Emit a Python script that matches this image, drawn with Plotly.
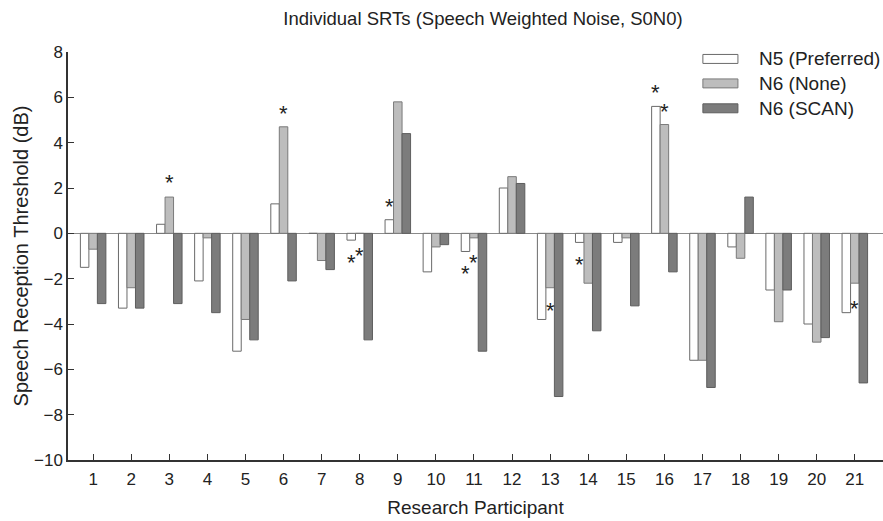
import plotly.graph_objects as go

participants = list(range(1, 22))
series_names = ["N5 (Preferred)", "N6 (None)", "N6 (SCAN)"]
n5_preferred = [-1.5, -3.3, 0.4, -2.1, -5.2, 1.3, 0.0, -0.3, 0.6, -1.7, -0.8,
                2.0, -3.8, -0.4, -0.4, 5.6, -5.6, -0.6, -2.5, -4.0, -3.5]
n6_none = [-0.7, -2.4, 1.6, -0.2, -3.8, 4.7, -1.2, 0.0, 5.8, -0.6, -0.2,
           2.5, -2.4, -2.2, -0.2, 4.8, -5.6, -1.1, -3.9, -4.8, -2.2]
n6_scan = [-3.1, -3.3, -3.1, -3.5, -4.7, -2.1, -1.6, -4.7, 4.4, -0.5, -5.2,
           2.2, -7.2, -4.3, -3.2, -1.7, -6.8, 1.6, -2.5, -4.6, -6.6]

# significance markers: participant, series index (0,1,2), y value
star_participants = [3, 6, 8, 8, 9, 11, 11, 13, 14, 16, 16, 21]
star_series = [1, 1, 0, 1, 0, 0, 1, 1, 0, 0, 1, 1]
star_values = [2.35, 5.36, -1.18, -0.88, 1.29, -1.67, -1.18, -3.32, -1.3, 6.28, 5.47, -3.22]

y_ticks = [-10, -8, -6, -4, -2, 0, 2, 4, 6, 8]

fills = ["#ffffff", "#bdbdbd", "#7c7c7c"]
edges = ["#6a6a6a", "#7a7a7a", "#5e5e5e"]
FONT = "Liberation Sans, Arial, sans-serif"
TXT = "#222222"

bargap = 0.33
bar_w = (1 - bargap) / 3

fig = go.Figure()
for name, vals, fc, ec in zip(series_names, [n5_preferred, n6_none, n6_scan], fills, edges):
    fig.add_trace(go.Bar(x=participants, y=vals, name=name,
                         marker=dict(color=fc, line=dict(color=ec, width=1)),
                         showlegend=False))

for p, s, v in zip(star_participants, star_series, star_values):
    fig.add_annotation(x=p + (s - 1) * bar_w, y=v, text="*", showarrow=False,
                       font=dict(family=FONT, size=22, color=TXT),
                       xanchor="center", yanchor="middle", yshift=-2)

# custom legend
leg_y = [0.983, 0.923, 0.862]
for name, fc, ec, ly in zip(series_names, fills, edges, leg_y):
    fig.add_shape(type="rect", xref="paper", yref="paper",
                  x0=0.779, x1=0.822, y0=ly - 0.011, y1=ly + 0.011,
                  fillcolor=fc, line=dict(color=ec, width=1))
    fig.add_annotation(xref="paper", yref="paper", x=0.845, y=ly, text=name,
                       showarrow=False, xanchor="left", yanchor="middle",
                       font=dict(family=FONT, size=19, color=TXT))

fig.update_layout(
    width=883, height=521,
    margin=dict(l=68, r=0, t=52, b=61),
    paper_bgcolor="white", plot_bgcolor="white",
    barmode="group", bargap=bargap, bargroupgap=0,
    title=dict(text="Individual SRTs (Speech Weighted Noise, S0N0)",
               x=0.547, xanchor="center", y=0.965, yanchor="middle",
               font=dict(family=FONT, size=18.5, color=TXT)),
    font=dict(family=FONT, size=17, color=TXT),
)
fig.update_xaxes(range=[0.34, 21.74], tickmode="array", tickvals=participants,
                 ticktext=[str(p) for p in participants],
                 ticks="inside", ticklen=6, tickcolor="#333",
                 showline=True, linecolor="#333", linewidth=1.5,
                 showgrid=False, zeroline=False, automargin=False,
                 ticklabelstandoff=3,
                 tickfont=dict(family=FONT, size=17, color=TXT),
                 title=dict(text="Research Participant", standoff=13,
                            font=dict(family=FONT, size=19, color=TXT)))
fig.update_yaxes(range=[-10, 8], tickmode="array", tickvals=y_ticks,
                 ticks="inside", ticklen=6, tickcolor="#333",
                 showline=True, linecolor="#333", linewidth=1.5,
                 showgrid=False, zeroline=True, zerolinecolor="#8a8a8a", zerolinewidth=1,
                 automargin=False,
                 tickfont=dict(family=FONT, size=17, color=TXT),
                 title=dict(text="Speech Reception Threshold (dB)", standoff=0,
                            font=dict(family=FONT, size=20, color=TXT)))

fig.write_html("out.html", config={"displayModeBar": False},
               post_script="document.body.style.margin='0';document.body.style.padding='0';")
